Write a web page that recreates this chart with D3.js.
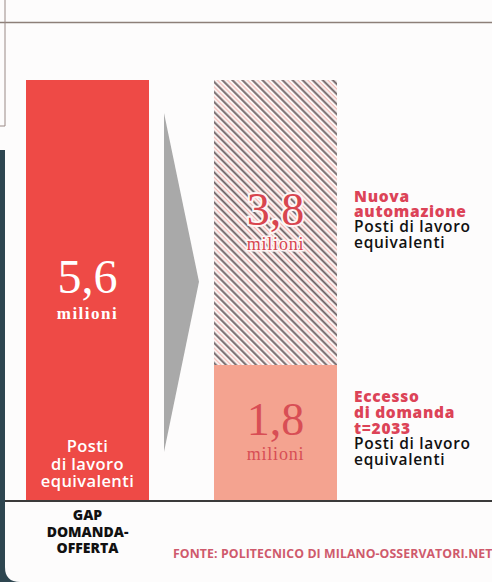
<!DOCTYPE html>
<html><head><meta charset="utf-8">
<script src="https://cdn.jsdelivr.net/npm/d3@7"></script>
<style>
html,body{margin:0;padding:0;background:#2e4650;}
svg{display:block;}
</style>
</head><body>
<script>
// ---- data ----
const categories = ["gap", "composizione"];
const gapValues = [5.6];
const segmentKeys = ["eccesso", "automazione"];
const segmentValues = [1.8, 3.8];
const valueLabels = ["5,6", "1,8", "3,8"];
const unitLabel = "milioni";
const gapInnerLabel = ["Posti", "di lavoro", "equivalenti"];
const gapAxisLabel = ["GAP", "DOMANDA-", "OFFERTA"];
const automazioneLabel = { red: ["Nuova", "automazione"], black: ["Posti di lavoro", "equivalenti"] };
const eccessoLabel = { red: ["Eccesso", "di domanda", "t=2033"], black: ["Posti di lavoro", "equivalenti"] };
const sourceLabel = "FONTE: POLITECNICO DI MILANO-OSSERVATORI.NET";

const W = 492, H = 582;
const svg = d3.select("body").append("svg").attr("width", W).attr("height", H);

// panel background with rounded bottom-left corner
svg.append("rect").attr("x", 0).attr("y", 0).attr("width", W).attr("height", 150).attr("fill", "#fdfcfc");
svg.append("path")
  .attr("d", `M5,140 L${W},140 L${W},${H} L20,${H} Q5,${H} 5,${H-15} Z`)
  .attr("fill", "#fdfcfc");

// top border lines
svg.append("line").attr("x1", 0).attr("x2", W).attr("y1", 22.5).attr("y2", 22.5)
  .attr("stroke", "#8d7f78").attr("stroke-width", 1.6);
svg.append("line").attr("x1", 5).attr("x2", 5).attr("y1", 0).attr("y2", 126)
  .attr("stroke", "#9a8a86").attr("stroke-width", 1);
svg.append("line").attr("x1", 0).attr("x2", 5).attr("y1", 126).attr("y2", 126)
  .attr("stroke", "#9a8a86").attr("stroke-width", 1);

// scales
const y = d3.scaleLinear().domain([0, 5.6]).range([500, 80]);
const x = d3.scaleBand().domain(categories).range([26, 337]).paddingInner(0.3457).paddingOuter(0);
const bw = x.bandwidth();

// hatch pattern
const defs = svg.append("defs");
const P = 7.1;
const pat = defs.append("pattern").attr("id", "hatch")
  .attr("patternUnits", "userSpaceOnUse").attr("width", P).attr("height", P)
  .attr("patternTransform", "rotate(-45)");
pat.append("rect").attr("width", P).attr("height", P).attr("fill", "#fdf6f5");
pat.append("line").attr("x1", 1.2).attr("x2", 1.2).attr("y1", 0).attr("y2", P)
  .attr("stroke", "#6e6163").attr("stroke-width", 1.9);
pat.append("line").attr("x1", 4.75).attr("x2", 4.75).attr("y1", 0).attr("y2", P)
  .attr("stroke", "#f2b9b5").attr("stroke-width", 1.2);

// gap bar
svg.selectAll("rect.gap").data(gapValues).join("rect").attr("class", "gap")
  .attr("x", x("gap")).attr("width", bw)
  .attr("y", d => y(d)).attr("height", d => y(0) - y(d))
  .attr("fill", "#ee4a46");

// arrow triangle
const ax0 = x("gap") + bw + 15, ax1 = x("composizione") - 15;
svg.append("path")
  .attr("d", `M${ax0},${y(5.16)} L${ax1},${y(2.91)} L${ax0},${y(0.64)} Z`)
  .attr("fill", "#a9a9a9");

// stacked bar
const stack = [];
let acc = 0;
segmentValues.forEach((v, i) => { stack.push({ key: segmentKeys[i], y0: acc, y1: acc + v, v }); acc += v; });
svg.selectAll("rect.seg").data(stack).join("rect").attr("class", "seg")
  .attr("x", x("composizione")).attr("width", bw)
  .attr("y", d => y(d.y1)).attr("height", d => y(d.y0) - y(d.y1))
  .attr("fill", d => d.key === "eccesso" ? "#f4a390" : "url(#hatch)");

// baseline
svg.append("line").attr("x1", 5).attr("x2", W).attr("y1", 501).attr("y2", 501)
  .attr("stroke", "#3a3a3a").attr("stroke-width", 2);

const serif = "'Liberation Serif', 'DejaVu Serif', serif";
const sans = "'Open Sans', 'DejaVu Sans', sans-serif";

// gap value labels
const gcx = x("gap") + bw / 2;
svg.append("text").attr("x", gcx).attr("y", 293).attr("text-anchor", "middle")
  .attr("font-family", serif).attr("font-size", 48).attr("fill", "#fff").text(valueLabels[0]);
svg.append("text").attr("x", gcx).attr("y", 319).attr("text-anchor", "middle")
  .attr("font-family", serif).attr("font-weight", "bold").attr("font-size", 17)
  .attr("letter-spacing", 1.5).attr("fill", "#fff").text(unitLabel);
gapInnerLabel.forEach((t, i) => {
  svg.append("text").attr("x", gcx).attr("y", 452 + i * 17.5).attr("text-anchor", "middle")
    .attr("font-family", sans).attr("font-weight", 600).attr("font-size", 16.5)
    .attr("letter-spacing", 0.4).attr("fill", "#fff").text(t);
});
gapAxisLabel.forEach((t, i) => {
  svg.append("text").attr("x", gcx).attr("y", 520 + i * 16.5).attr("text-anchor", "middle")
    .attr("font-family", sans).attr("font-weight", 800).attr("font-size", 14)
    .attr("fill", "#111").text(t);
});

// stacked bar labels
const ccx = x("composizione") + bw / 2;
svg.append("text").attr("x", ccx).attr("y", 225).attr("text-anchor", "middle")
  .attr("font-family", serif).attr("font-size", 46).attr("fill", "#d8454f")
  .attr("stroke", "#fdf6f5").attr("stroke-width", 4).attr("paint-order", "stroke")
  .text(valueLabels[2]);
svg.append("text").attr("x", ccx).attr("y", 250).attr("text-anchor", "middle")
  .attr("font-family", serif).attr("font-size", 18).attr("letter-spacing", 0.8)
  .attr("fill", "#d8454f")
  .attr("stroke", "#fdf6f5").attr("stroke-width", 3).attr("paint-order", "stroke")
  .text(unitLabel);
svg.append("text").attr("x", ccx).attr("y", 435).attr("text-anchor", "middle")
  .attr("font-family", serif).attr("font-size", 46).attr("fill", "#d84e55").text(valueLabels[1]);
svg.append("text").attr("x", ccx).attr("y", 460).attr("text-anchor", "middle")
  .attr("font-family", serif).attr("font-size", 18).attr("letter-spacing", 0.8)
  .attr("fill", "#d84e55").text(unitLabel);

// side labels
const lx = x("composizione") + bw + 17;
function sideLabel(lbl, y0, lh) {
  const all = lbl.red.map(t => ({ t, c: "#dc4357", w: 800, ls: 0.7 }))
    .concat(lbl.black.map(t => ({ t, c: "#111", w: 600, ls: 0.7 })));
  all.forEach((d, i) => {
    svg.append("text").attr("x", lx).attr("y", y0 + i * lh)
      .attr("font-family", sans).attr("font-weight", d.w).attr("font-size", 15.5)
      .attr("letter-spacing", d.ls).attr("fill", d.c).text(d.t);
  });
}
sideLabel(automazioneLabel, 202, 15.2);
sideLabel(eccessoLabel, 402, 15.8);

// source
svg.append("text").attr("x", 173).attr("y", 557.5)
  .attr("font-family", sans).attr("font-weight", 700).attr("font-size", 12.3)
  .attr("letter-spacing", 0.1)
  .attr("fill", "#cf5a6c").text(sourceLabel);
</script>
</body></html>
